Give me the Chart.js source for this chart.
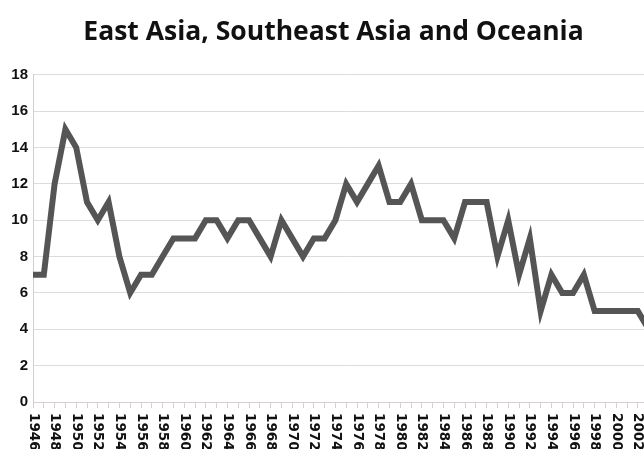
<!DOCTYPE html>
<html>
<head>
<meta charset="utf-8">
<script src="https://cdn.jsdelivr.net/npm/chart.js@4/dist/chart.umd.min.js"></script>
<style>
  html, body { margin: 0; padding: 0; overflow: hidden; background: #ffffff; width: 644px; height: 449px; }
  canvas { display: block; }
</style>
</head>
<body>
<canvas id="c" width="675" height="470"></canvas>
<script>
// ---- data ----
const chartTitle = 'East Asia, Southeast Asia and Oceania';
const years = [
  1946, 1947, 1948, 1949, 1950, 1951, 1952, 1953, 1954, 1955,
  1956, 1957, 1958, 1959, 1960, 1961, 1962, 1963, 1964, 1965,
  1966, 1967, 1968, 1969, 1970, 1971, 1972, 1973, 1974, 1975,
  1976, 1977, 1978, 1979, 1980, 1981, 1982, 1983, 1984, 1985,
  1986, 1987, 1988, 1989, 1990, 1991, 1992, 1993, 1994, 1995,
  1996, 1997, 1998, 1999, 2000, 2001, 2002, 2003
];
const conflicts = [
  7, 7, 12, 15, 14, 11, 10, 11, 8, 6,
  7, 7, 8, 9, 9, 9, 10, 10, 9, 10,
  10, 9, 8, 10, 9, 8, 9, 9, 10, 12,
  11, 12, 13, 11, 11, 12, 10, 10, 10, 9,
  11, 11, 11, 8, 10, 7, 9, 5, 7, 6,
  6, 7, 5, 5, 5, 5, 5, 4
];
const yTickValues = [0, 2, 4, 6, 8, 10, 12, 14, 16, 18];
const xLabelYears = years.filter(y => (y - 1946) % 2 === 0);
const xMin = 1946;
const xMax = 2004.7;   // axis continues past the cropped right edge

// draws the x tick labels rotated clockwise (reading top to bottom)
const xLabelPlugin = {
  id: 'xLabelsDown',
  afterDraw(chart) {
    const s = chart.scales.x;
    const ctx = chart.ctx;
    ctx.save();
    ctx.font = 'bold 13.5px "DejaVu Sans"';
    ctx.fillStyle = '#111111';
    ctx.textAlign = 'left';
    ctx.textBaseline = 'middle';
    xLabelYears.forEach(yr => {
      const x = s.getPixelForValue(yr);
      ctx.save();
      ctx.translate(x, s.top + 11);
      ctx.rotate(Math.PI / 2);
      ctx.fillText(String(yr), 0, 0);
      ctx.restore();
    });
    ctx.restore();
  }
};

new Chart(document.getElementById('c'), {
  type: 'line',
  data: {
    datasets: [{
      data: years.map((yr, i) => ({ x: yr, y: conflicts[i] })),
      borderColor: '#555555',
      borderWidth: 6,
      pointRadius: 0,
      pointHoverRadius: 0,
      tension: 0,
      fill: false,
      borderJoinStyle: 'miter',
      borderCapStyle: 'butt'
    }]
  },
  options: {
    responsive: false,
    animation: false,
    devicePixelRatio: 1,
    layout: { padding: { left: 0, right: 8, top: 0, bottom: 0 } },
    plugins: {
      legend: { display: false },
      tooltip: { enabled: false },
      title: {
        display: true,
        text: chartTitle,
        color: '#111111',
        font: { family: '"Open Sans"', size: 26.5, weight: 'bold' },
        padding: { top: 17, bottom: 26 }
      }
    },
    scales: {
      x: {
        type: 'linear',
        min: xMin,
        max: xMax,
        afterBuildTicks: s => { s.ticks = years.map(v => ({ value: v })); },
        grid: { drawOnChartArea: false, drawTicks: true, tickLength: 6, color: '#d8d0d0' },
        border: { display: true, color: '#d8d0d0', width: 1 },
        ticks: { display: false },
        afterFit: s => { s.height = 68; }
      },
      y: {
        min: 0,
        max: 18,
        afterBuildTicks: s => { s.ticks = yTickValues.map(v => ({ value: v })); },
        ticks: {
          color: '#111111',
          font: { family: '"Liberation Sans"', size: 15, weight: 'bold' },
          padding: 5
        },
        grid: { color: '#dcdcdc', drawTicks: false },
        border: { display: true, color: '#d0d0d0' },
        afterFit: s => { s.width = 33; }
      }
    }
  },
  plugins: [xLabelPlugin]
});
</script>
</body>
</html>
